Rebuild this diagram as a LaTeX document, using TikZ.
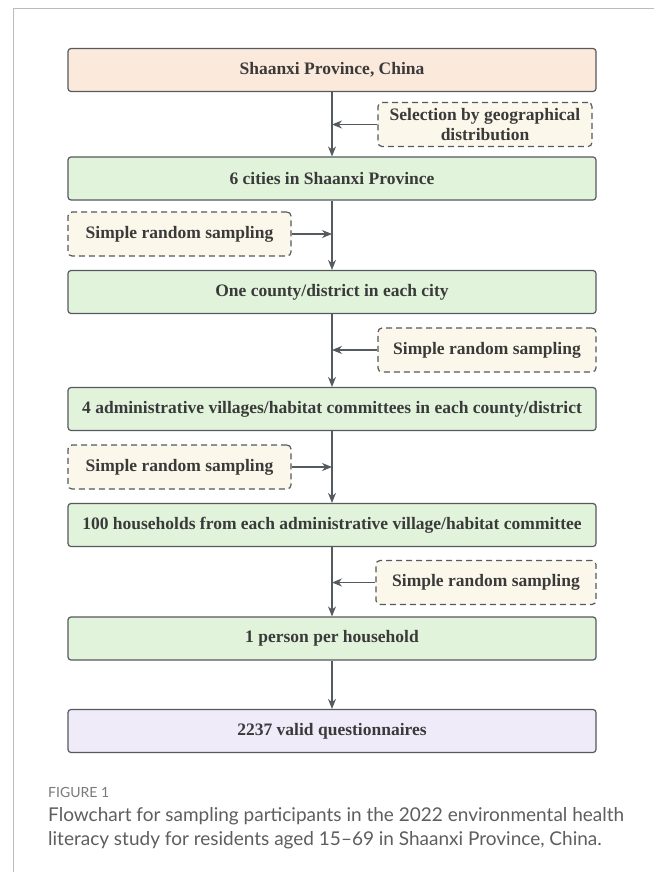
\documentclass[tikz,border=0pt]{standalone}
\usepackage{fontspec}
\setmainfont{Liberation Serif}
\newfontfamily\capfont{Lato}
\usetikzlibrary{arrows.meta}
\definecolor{edgecol}{HTML}{555A5E}
\definecolor{txtcol}{HTML}{3A3A3A}
\definecolor{peach}{HTML}{FBE9DC}
\definecolor{greenbox}{HTML}{E2F3DC}
\definecolor{purplebox}{HTML}{EFEBF8}
\definecolor{creambox}{HTML}{FBF7EA}
\definecolor{framecol}{HTML}{BBBBBB}
\definecolor{capgray}{HTML}{5E5E5E}
\definecolor{figgray}{HTML}{7A7A7A}
\tikzset{
  mainbox/.style={draw=edgecol, line width=1.2pt, rounded corners=3pt, minimum width=528pt, minimum height=43pt, inner sep=0pt, font=\fontsize{17.5}{20}\selectfont\bfseries, text=txtcol, align=center},
  sidebox/.style={draw=edgecol, line width=1.2pt, dash pattern=on 6pt off 4pt, rounded corners=4pt, fill=creambox, minimum height=44pt, inner sep=0pt, font=\fontsize{17.5}{20}\selectfont\bfseries, text=txtcol, align=center},
  arr/.style={draw=edgecol, line width=1.1pt, -{Stealth[length=10pt,width=8pt]}}
}
\begin{document}
\begin{tikzpicture}[x=1pt,y=-1pt]
\useasboundingbox (0,0) rectangle (654,872);
\fill[white] (0,0) rectangle (654,872);
\draw[framecol, line width=1pt] (13,872) -- (13,9) -- (654,9);

\node[mainbox, fill=peach] (b1) at (332,70) {Shaanxi Province, China};
\node[mainbox, fill=greenbox] (b2) at (332,178.5) {6 cities in Shaanxi Province};
\node[mainbox, fill=greenbox] (b3) at (332,292) {One county/district in each city};
\node[mainbox, fill=greenbox] (b4) at (332,409) {4 administrative villages/habitat committees in each county/district};
\node[mainbox, fill=greenbox] (b5) at (332,525) {100 households from each administrative village/habitat committee};
\node[mainbox, fill=greenbox] (b6) at (332,638.5) {1 person per household};
\node[mainbox, fill=purplebox] (b7) at (332,731) {2237 valid questionnaires};

\node[sidebox, minimum width=214pt, font=\fontsize{17.5}{20.5}\selectfont\bfseries] (s1) at (485,124.5) {Selection by geographical\\distribution};
\node[sidebox, minimum width=223pt] (s2) at (179.5,234) {Simple random sampling};
\node[sidebox, minimum width=218pt] (s3) at (487,350) {Simple random sampling};
\node[sidebox, minimum width=223pt] (s4) at (179.5,467) {Simple random sampling};
\node[sidebox, minimum width=220pt] (s5) at (486,582.5) {Simple random sampling};

\draw[arr] (b1.south) -- (b2.north);
\draw[arr] (b2.south) -- (b3.north);
\draw[arr] (b3.south) -- (b4.north);
\draw[arr] (b4.south) -- (b5.north);
\draw[arr] (b5.south) -- (b6.north);
\draw[arr] (b6.south) -- (b7.north);

\draw[arr] (s1.west) -- (s1.west -| b1.south);
\draw[arr] (s2.east) -- (s2.east -| b1.south);
\draw[arr] (s3.west) -- (s3.west -| b1.south);
\draw[arr] (s4.east) -- (s4.east -| b1.south);
\draw[arr] (s5.west) -- (s5.west -| b1.south);

\node[anchor=base west, inner sep=0pt, text=figgray, font=\capfont\fontsize{14}{16}\selectfont] (fig) at (48,797) {FIGURE 1};
\node[anchor=base west, inner sep=0pt, text=capgray, font=\capfont\fontsize{19}{24}\selectfont] (cap1) at (48,821) {Flowchart for sampling participants in the 2022 environmental health};
\node[anchor=base west, inner sep=0pt, text=capgray, font=\capfont\fontsize{19}{24}\selectfont] (cap2) at (48,845) {literacy study for residents aged 15–69 in Shaanxi Province, China.};
\end{tikzpicture}
\end{document}
